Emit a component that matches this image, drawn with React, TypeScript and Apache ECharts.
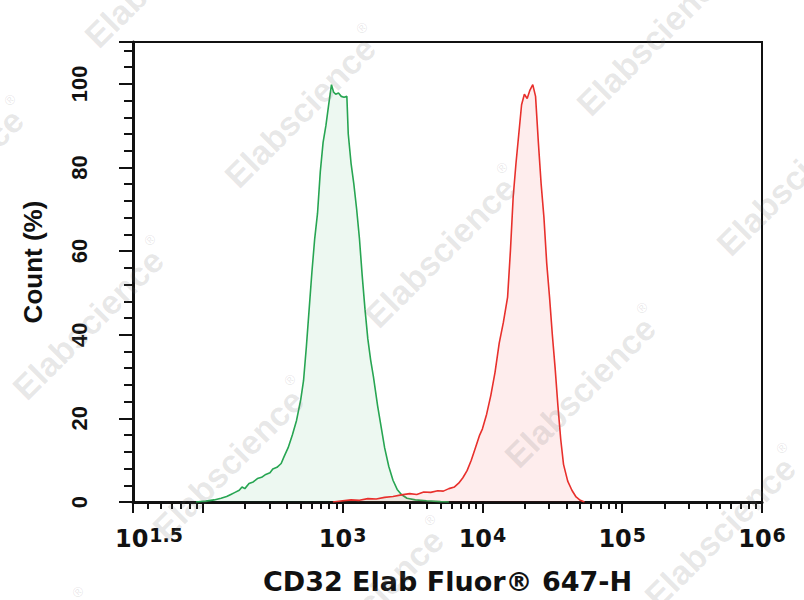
import React, { useEffect, useRef } from "react";
import * as echarts from "echarts";

// Axis ticks / labels (x values are log10 of fluorescence intensity)
const xMajorTicks = [1.5, 2, 3, 4, 5, 6];
const xLabelExponents = [1.5, 3, 4, 5, 6];
const yMajorTicks = [0, 20, 40, 60, 80, 100, 110];
const yLabels = [0, 20, 40, 60, 80, 100];

// Green (control) histogram
const greenLog = [1.95, 2.02, 2.08, 2.13, 2.17, 2.2, 2.23, 2.26, 2.28, 2.3, 2.33, 2.36, 2.39, 2.42, 2.45, 2.48, 2.5, 2.53, 2.56, 2.58, 2.61, 2.64, 2.67, 2.7, 2.72, 2.74, 2.76, 2.78, 2.8, 2.82, 2.84, 2.86, 2.88, 2.9, 2.92, 2.935, 2.95, 2.97, 2.99, 3.01, 3.03, 3.04, 3.06, 3.08, 3.1, 3.12, 3.14, 3.16, 3.18, 3.2, 3.22, 3.25, 3.28, 3.3, 3.33, 3.36, 3.39, 3.42, 3.46, 3.52, 3.6, 3.7, 3.76];
const greenCount = [0, 0.2, 0.5, 0.9, 1.3, 1.8, 2.3, 2.8, 3.6, 3.2, 4.4, 4.8, 5.6, 5.9, 6.6, 7.0, 7.9, 8.3, 9.2, 10.8, 13.0, 16.0, 19.5, 24.5, 29, 37, 46, 55, 63, 69, 79, 86, 90, 95, 99.8, 98, 97.5, 97.8, 97, 96.8, 97, 88, 81, 76, 70, 63, 54, 46, 39, 34, 30, 23, 17, 13, 8.5, 5.2, 3.0, 1.8, 0.9, 0.5, 0.3, 0.1, 0];

// Red (CD32 stained) histogram
const redLog = [2.93, 3.0, 3.06, 3.12, 3.18, 3.24, 3.3, 3.36, 3.42, 3.48, 3.53, 3.58, 3.63, 3.68, 3.72, 3.76, 3.8, 3.83, 3.86, 3.89, 3.92, 3.95, 3.98, 4.0, 4.03, 4.06, 4.09, 4.12, 4.15, 4.18, 4.2, 4.22, 4.24, 4.26, 4.28, 4.3, 4.32, 4.34, 4.36, 4.38, 4.4, 4.42, 4.44, 4.46, 4.48, 4.5, 4.52, 4.54, 4.56, 4.58, 4.61, 4.64, 4.67, 4.7, 4.73];
const redCount = [0, 0.3, 0.5, 0.4, 0.8, 0.7, 1.1, 1.3, 1.7, 2.0, 1.8, 2.4, 2.3, 2.7, 2.6, 3.2, 3.6, 4.5, 5.8, 7.5, 10, 13, 16, 17.5, 21, 25.5, 31, 38, 43, 49, 60, 73, 81, 88, 95, 97.5, 96.5, 98.5, 99.8, 97, 86, 76, 68, 57, 49, 40, 32, 23, 15, 9, 5, 2.8, 1.2, 0.4, 0];

const xTitle = "CD32 Elab Fluor® 647-H";
const yTitle = "Count (%)";
const watermarkText = "Elabscience";

function minorXTicks(): number[] {
  const out: number[] = [];
  for (let d = 1; d <= 5; d++) {
    for (let k = 2; k <= 9; k++) {
      const v = d + Math.log10(k);
      if (v > 1.5 && v < 6) out.push(v);
    }
  }
  return out;
}

function minorYTicks(): number[] {
  const out: number[] = [];
  for (let v = 4; v <= 108; v += 4) {
    if (v % 20 !== 0) out.push(v);
  }
  return out;
}

// Repeating diagonal watermark, as in the reference (copies at the edges are partly cut)
function watermarks(): any[] {
  const els: any[] = [];
  const L = 215 * Math.SQRT1_2;
  for (let m = -1; m <= 5; m++) {
    const c = 128 + 280 * m;
    for (let k = -3; k <= 3; k++) {
      const d = 49 + 424 * k;
      const x = (c + d) / 2;
      const y = (c - d) / 2;
      // keep copies that show at least partly on the page
      if (x + L < 0 || x > 804 || y - L > 600 || y < 0) continue;
      els.push({
        type: "text",
        x,
        y,
        rotation: Math.PI / 4,
        silent: true,
        z: 100,
        style: {
          text: "{a|" + watermarkText + "}{r|®}",
          align: "left",
          verticalAlign: "middle",
          rich: {
            a: {
              fontFamily: "Liberation Sans",
              fontWeight: "bold",
              fontSize: 34,
              fill: "rgba(110,110,110,0.16)",
              lineHeight: 40,
              verticalAlign: "bottom",
            },
            r: {
              fontFamily: "Liberation Sans",
              fontSize: 14,
              fill: "rgba(110,110,110,0.16)",
              lineHeight: 22,
              verticalAlign: "top",
            },
          },
        },
      });
    }
  }
  return els;
}

const FONT_X = "DejaVu Sans";
const FONT_Y = "Liberation Sans";

export default function App() {
  const ref = useRef<HTMLDivElement>(null);

  useEffect(() => {
    if (!ref.current) return;
    const chart = echarts.init(ref.current, undefined, { renderer: "svg" });

    const green = greenLog.map((x, i) => [x, greenCount[i]]);
    const red = redLog.map((x, i) => [x, redCount[i]]);

    const xLabelRich = {
      b: { fontFamily: FONT_X, fontWeight: "bold", fontSize: 24, color: "#111", lineHeight: 26, verticalAlign: "bottom" },
      p: { fontFamily: FONT_X, fontWeight: "bold", fontSize: 24, color: "#111", lineHeight: 26, verticalAlign: "bottom", padding: [0, 0, 0, 32] },
      s: { fontFamily: FONT_X, fontWeight: "bold", fontSize: 19, color: "#111", lineHeight: 16, verticalAlign: "top", padding: [0, 0, 0, 1] },
    };

    const option: any = {
      animation: false,
      backgroundColor: "#fff",
      grid: {
        left: 133,
        right: 42,
        top: 42,
        bottom: 98,
        show: true,
        borderColor: "#111",
        borderWidth: 2,
        backgroundColor: "transparent",
        containLabel: false,
        outerBoundsMode: "none",
      },
      xAxis: [
        {
          type: "value",
          min: 1.5,
          max: 6,
          position: "bottom",
          splitLine: { show: false },
          axisLine: { show: true, onZero: false, lineStyle: { color: "#111", width: 3 } },
          axisTick: { show: true, customValues: xMajorTicks, length: 11, lineStyle: { color: "#111", width: 2 } },
          axisLabel: {
            show: true,
            customValues: xLabelExponents,
            margin: 23,
            formatter: (v: number) => {
              const e = xLabelExponents.find((t) => Math.abs(t - v) < 1e-6);
              const s = e === undefined ? String(v) : String(e);
              return (Math.abs(v - 1.5) < 1e-6 ? "{p|10}" : "{b|10}") + "{s|" + s + "}";
            },
            rich: xLabelRich,
          },
          name: xTitle,
          nameLocation: "middle",
          nameGap: 66,
          nameTextStyle: { fontFamily: FONT_X, fontWeight: "bold", fontSize: 27, color: "#111" },
        },
        {
          type: "value",
          min: 1.5,
          max: 6,
          position: "bottom",
          splitLine: { show: false },
          axisLine: { show: false, onZero: false },
          axisTick: { show: true, customValues: minorXTicks(), length: 7, lineStyle: { color: "#111", width: 2 } },
          axisLabel: { show: false },
        },
      ],
      yAxis: [
        {
          type: "value",
          min: 0,
          max: 110,
          position: "left",
          splitLine: { show: false },
          axisLine: { show: true, onZero: false, lineStyle: { color: "#111", width: 3 } },
          axisTick: { show: true, customValues: yMajorTicks, length: 14, lineStyle: { color: "#111", width: 2 } },
          axisLabel: {
            show: true,
            customValues: yLabels,
            rotate: 90,
            margin: 43,
            fontFamily: FONT_Y,
            fontWeight: "bold",
            fontSize: 22,
            color: "#111",
          },
        },
        {
          type: "value",
          min: 0,
          max: 110,
          position: "left",
          splitLine: { show: false },
          axisLine: { show: false, onZero: false },
          axisTick: { show: true, customValues: minorYTicks(), length: 9, lineStyle: { color: "#111", width: 2 } },
          axisLabel: { show: false },
        },
      ],
      series: [
        {
          type: "line",
          name: "control",
          data: green,
          xAxisIndex: 0,
          yAxisIndex: 0,
          showSymbol: false,
          smooth: false,
          lineStyle: { color: "#27a552", width: 1.6 },
          areaStyle: { color: "rgba(39,165,82,0.12)" },
          z: 3,
        },
        {
          type: "line",
          name: "CD32",
          data: red,
          xAxisIndex: 0,
          yAxisIndex: 0,
          showSymbol: false,
          smooth: false,
          lineStyle: { color: "#e8302c", width: 1.6 },
          areaStyle: { color: "rgba(240,60,60,0.13)" },
          z: 4,
        },
      ],
      graphic: [
        {
          type: "text",
          x: 33,
          y: 262,
          rotation: Math.PI / 2,
          silent: true,
          style: {
            text: yTitle,
            fontFamily: FONT_Y,
            fontWeight: "bold",
            fontSize: 26,
            fill: "#111",
            align: "center",
            verticalAlign: "middle",
          },
        },
        ...watermarks(),
      ],
    };

    chart.setOption(option);
    return () => chart.dispose();
  }, []);

  return <div ref={ref} style={{ position: "fixed", left: 0, top: 0, width: 804, height: 600 }} />;
}
